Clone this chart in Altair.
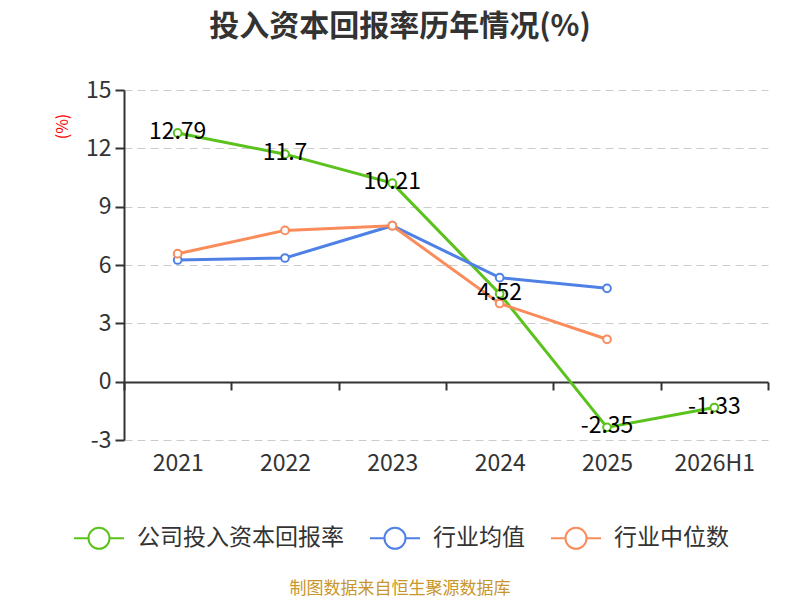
import altair as alt
import pandas as pd

periods = ["2021", "2022", "2023", "2024", "2025", "2026H1"]
company = [12.79, 11.7, 10.21, 4.52, -2.35, -1.33]
ind_mean = [6.26, 6.36, 8.02, 5.35, 4.80]
ind_median = [6.58, 7.78, 8.02, 4.02, 2.18]
series_names = ["公司投入资本回报率", "行业均值", "行业中位数"]
colors = ["#5BC21D", "#4E80E5", "#FA8C5C"]
y_ticks = [-3, 0, 3, 6, 9, 12, 15]
title_text = "投入资本回报率历年情况(%)"
source_text = "制图数据来自恒生聚源数据库"

FONT = "Noto Sans CJK SC"

rows = []
for name, vals in zip(series_names, [company, ind_mean, ind_median]):
    for p, v in zip(periods, vals):
        rows.append({"period": p, "series": name, "value": v, "label": str(v)})
df = pd.DataFrame(rows)
df_company = df[df["series"] == series_names[0]]

LEGEND_PATH = ("M-1,0 L-0.42,0 M0.42,0 L1,0 "
               "M-0.42,0 A0.42,0.42 0 1,1 0.42,0 A0.42,0.42 0 1,1 -0.42,0 Z")

x_enc = alt.X(
    "period:N", sort=periods,
    scale=alt.Scale(type="band", paddingInner=0, paddingOuter=0),
    axis=alt.Axis(title=None, orient="bottom", offset=-58, labelAngle=0,
                  domainColor="#333", domainWidth=2, tickColor="#333",
                  tickWidth=2, tickSize=8, tickBand="extent", labelPadding=62,
                  labelFontSize=23, labelFont=FONT, labelColor="#333"),
)
y_enc = alt.Y(
    "value:Q",
    scale=alt.Scale(domain=[-3, 15], nice=False, zero=False),
    axis=alt.Axis(values=y_ticks, title="(%)", titleColor="red",
                  titleFontSize=16, titleFontWeight="normal", titleFont=FONT,
                  titleX=-62, titleY=36, titleAngle=270, titleAlign="center",
                  titleBaseline="middle",
                  labelExpr="replace(datum.label, '\u2212', '-')",
                  grid=True, gridDash=[8, 5], gridColor="#cccccc", gridWidth=1.2,
                  domainColor="#333", domainWidth=2, tickColor="#333",
                  tickWidth=2, tickSize=9, labelFontSize=23, labelFont=FONT,
                  labelColor="#333", labelPadding=4),
)

lines = alt.Chart(df).mark_line(
    strokeWidth=3,
    point=alt.OverlayMarkDef(filled=False, fill="white", size=60, strokeWidth=2),
).encode(
    x=x_enc,
    y=y_enc,
    color=alt.Color(
        "series:N", sort=series_names,
        scale=alt.Scale(domain=series_names, range=colors),
        legend=alt.Legend(title=None, orient="none", legendX=-51, legendY=422,
                          direction="horizontal", symbolType=LEGEND_PATH,
                          symbolSize=2500, symbolStrokeWidth=2,
                          symbolFillColor="white", labelFontSize=23,
                          labelFont=FONT, labelColor="#333", labelOffset=12,
                          labelLimit=400, columnPadding=22),
    ),
    order=alt.Order("period:N"),
)

labels = alt.Chart(df_company).mark_text(
    fontSize=23, font=FONT, color="black", baseline="middle", dy=-1
).encode(
    x=alt.X("period:N", sort=periods),
    y=alt.Y("value:Q"),
    text="label:N",
)

source = alt.Chart(pd.DataFrame({"t": [source_text]})).mark_text(
    fontSize=17, font=FONT, color="#C8962A", baseline="middle", align="center"
).encode(
    text="t:N", x=alt.value(276), y=alt.value(499)
)

chart = alt.layer(lines, labels, source).properties(
    width=644, height=350,
    title=alt.TitleParams(title_text, fontSize=30, font=FONT, fontWeight="bold",
                          color="#333", anchor="middle", dx=-46, offset=37),
    autosize=alt.AutoSizeParams(type="none"),
    padding={"left": 116, "top": 82, "right": 24, "bottom": 158},
).configure_view(stroke=None)

chart.save("out.html", embed_options={"renderer": "svg", "actions": False})
